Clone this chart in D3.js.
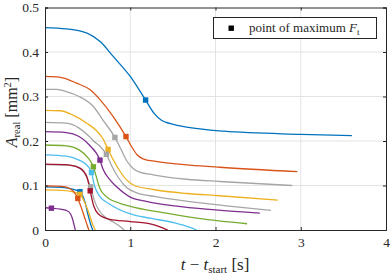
<!DOCTYPE html>
<html>
<head>
<meta charset="UTF-8">
<script src="https://d3js.org/d3.v7.min.js"></script>
<style>
  body { margin: 0; background: #fff; }
  svg text { font-family: "Liberation Serif", "DejaVu Serif", serif; fill: #262626; }
</style>
</head>
<body>
<svg id="grafico" width="390" height="276"></svg>
<script>
// ----- data (t - t_start [s], A_real [mm^2]) -----
const curvaAzul1    = [[0,0.455],[0.25,0.452],[0.5,0.442],[0.65,0.423],[0.8,0.39],[1.0,0.345],[1.18,0.292],[1.28,0.262],[1.37,0.246],[1.47,0.239],[1.7,0.23],[2.1,0.222],[3.0,0.215],[3.6,0.212]];
const curvaLaranja1 = [[0,0.345],[0.18,0.343],[0.37,0.33],[0.53,0.315],[0.65,0.292],[0.8,0.255],[0.95,0.21],[1.02,0.186],[1.08,0.169],[1.15,0.16],[1.3,0.154],[1.7,0.146],[2.05,0.141],[2.96,0.131]];
const curvaCinza1   = [[0,0.316],[0.14,0.316],[0.25,0.311],[0.4,0.3],[0.57,0.277],[0.68,0.247],[0.82,0.208],[0.89,0.182],[0.96,0.155],[1.03,0.139],[1.11,0.13],[1.27,0.124],[1.66,0.114],[2.05,0.109],[2.9,0.1]];
const curvaAmarela1 = [[0,0.269],[0.18,0.268],[0.33,0.258],[0.49,0.24],[0.6,0.224],[0.68,0.205],[0.74,0.181],[0.8,0.158],[0.88,0.132],[0.96,0.112],[1.05,0.1],[1.27,0.091],[1.66,0.082],[2.05,0.077],[2.73,0.067]];
const curvaCinza2   = [[0,0.242],[0.25,0.24],[0.4,0.229],[0.52,0.21],[0.57,0.2],[0.65,0.187],[0.72,0.17],[0.78,0.145],[0.86,0.118],[0.96,0.095],[1.07,0.084],[1.3,0.075],[1.7,0.064],[2.1,0.055],[2.65,0.044]];
const curvaRoxa1    = [[0,0.221],[0.25,0.219],[0.4,0.21],[0.52,0.191],[0.645,0.157],[0.68,0.137],[0.76,0.113],[0.84,0.097],[1.0,0.074],[1.2,0.064],[1.52,0.054],[2.0,0.045],[2.52,0.038]];
const curvaVerde    = [[0,0.191],[0.25,0.189],[0.4,0.18],[0.51,0.161],[0.567,0.142],[0.6,0.121],[0.64,0.095],[0.72,0.075],[0.88,0.06],[1.0,0.053],[1.35,0.04],[1.8,0.026],[2.37,0.014]];
const curvaCiano    = [[0,0.169],[0.25,0.166],[0.4,0.157],[0.51,0.142],[0.545,0.129],[0.58,0.1],[0.64,0.076],[0.76,0.058],[1.0,0.036],[1.25,0.026],[1.52,0.016],[1.7,0.006],[1.78,0]];
const curvaCinza3   = [[0,0.147],[0.3,0.145],[0.42,0.137],[0.49,0.118],[0.535,0.097],[0.58,0.066],[0.63,0.045],[0.7,0.03],[0.8,0.018],[0.88,0.008],[0.93,0]];
const curvaVinho    = [[0,0.148],[0.29,0.146],[0.41,0.139],[0.49,0.12],[0.53,0.088],[0.57,0.055],[0.625,0.036],[0.76,0.024],[1.0,0.019],[1.27,0.012],[1.38,0.005],[1.44,0]];
const curvaAzul2    = [[0,0.097],[0.2,0.096],[0.3,0.093],[0.41,0.086],[0.47,0.062],[0.51,0.03],[0.54,0.01],[0.56,0]];
const curvaAmarela2 = [[0,0.09],[0.2,0.089],[0.3,0.087],[0.41,0.08],[0.47,0.06],[0.52,0.035],[0.56,0.012],[0.59,0]];
const curvaLaranja2 = [[0,0.099],[0.2,0.098],[0.3,0.092],[0.385,0.071],[0.43,0.048],[0.47,0.025],[0.5,0.008],[0.515,0]];
const curvaRoxa2    = [[0,0.05],[0.08,0.049],[0.18,0.047],[0.25,0.044],[0.3,0.036],[0.33,0.02],[0.345,0.008],[0.355,0]];

// draw order (later on top), colours and the "maximum F_t" point of each curve
const curvas = [curvaAzul1, curvaLaranja1, curvaCinza1, curvaAmarela1, curvaCinza2, curvaRoxa1, curvaVerde,
                curvaCiano, curvaCinza3, curvaVinho, curvaAzul2, curvaAmarela2, curvaLaranja2, curvaRoxa2];
const cores = ["#0072BD", "#D95319", "#A6A6A6", "#EDB120", "#A6A6A6", "#7E2F8E", "#77AC30",
               "#4DBEEE", "#A6A6A6", "#A2142F", "#0072BD", "#EDB120", "#D95319", "#7E2F8E"];
const maximos = [[1.18,0.292],[0.95,0.21],[0.82,0.208],[0.74,0.181],[0.72,0.17],[0.645,0.157],[0.567,0.142],
                 [0.545,0.129],[0.535,0.097],[0.53,0.088],[0.41,0.086],[0.41,0.08],[0.385,0.071],[0.075,0.049]];

const ticksX = [0, 1, 2, 3, 4];
const ticksY = [0, 0.1, 0.2, 0.3, 0.4, 0.5];

// ----- layout -----
const esquerda = 45, direita = 386, topo = 7.5, inferior = 230;
const svg = d3.select("#grafico");

const escalaX = d3.scaleLinear().domain([0, 4]).range([esquerda, direita]);
const escalaY = d3.scaleLinear().domain([0, 0.5]).range([inferior, topo]);

// grid
svg.append("g").selectAll("line").data(ticksX.slice(1, -1)).enter().append("line")
  .attr("x1", d => escalaX(d)).attr("x2", d => escalaX(d))
  .attr("y1", topo).attr("y2", inferior)
  .attr("stroke", "#e3e3e3").attr("stroke-width", 1);
svg.append("g").selectAll("line").data(ticksY.slice(1, -1)).enter().append("line")
  .attr("x1", esquerda).attr("x2", direita)
  .attr("y1", d => escalaY(d)).attr("y2", d => escalaY(d))
  .attr("stroke", "#e3e3e3").attr("stroke-width", 1);

// curves
const linha = d3.line()
  .x(d => escalaX(d[0]))
  .y(d => escalaY(d[1]))
  .curve(d3.curveMonotoneX);

const plotArea = svg.append("g");
curvas.forEach(function(c, i) {
  plotArea.append("path")
    .attr("d", linha(c))
    .attr("fill", "none")
    .attr("stroke", cores[i])
    .attr("stroke-width", 1.3);
});
maximos.forEach(function(p, i) {
  plotArea.append("rect")
    .attr("x", escalaX(p[0]) - 2.7)
    .attr("y", escalaY(p[1]) - 2.7)
    .attr("width", 5.4).attr("height", 5.4)
    .attr("fill", cores[i]);
});

// axes (box with inward ticks)
const corEixo = "#262626";
const eixoX = d3.axisBottom(escalaX).tickValues(ticksX).tickSize(-3).tickPadding(7).tickFormat(d3.format("d"));
const eixoY = d3.axisLeft(escalaY).tickValues(ticksY).tickSize(-3).tickPadding(6).tickFormat(d => d === 0 ? "0" : d3.format(".1f")(d));
const eixoXTopo = d3.axisTop(escalaX).tickValues(ticksX).tickSize(-3).tickFormat("");
const eixoYDir = d3.axisRight(escalaY).tickValues(ticksY).tickSize(-3).tickFormat("");

const gx = svg.append("g").attr("transform", `translate(0,${inferior})`).call(eixoX);
const gy = svg.append("g").attr("transform", `translate(${esquerda},0)`).call(eixoY);
const gxt = svg.append("g").attr("transform", `translate(0,${topo})`).call(eixoXTopo);
const gyd = svg.append("g").attr("transform", `translate(${direita},0)`).call(eixoYDir);
[gx, gy, gxt, gyd].forEach(function(g) {
  g.selectAll("path, line").attr("stroke", corEixo).attr("stroke-width", 1);
  g.selectAll("text").attr("fill", corEixo).style("font-size", "13.5px")
    .style("font-family", '"Liberation Serif", serif');
});

// axis labels
svg.append("text")
  .attr("x", 215).attr("y", 270)
  .attr("text-anchor", "middle")
  .style("font-size", "17px")
  .html('<tspan font-style="italic">t</tspan> − <tspan font-style="italic">t</tspan><tspan dy="3" font-size="11px">start</tspan><tspan dy="-3"> [s]</tspan>');

svg.append("text")
  .attr("transform", "translate(17,112) rotate(-90)")
  .attr("text-anchor", "middle")
  .style("font-size", "16px")
  .html('<tspan font-style="italic">A</tspan><tspan dy="3" font-size="10.5px">real</tspan><tspan dy="-3"> [mm</tspan><tspan dy="-6" font-size="10.5px">2</tspan><tspan dy="6">]</tspan>');

// legend
const legenda = svg.append("g");
legenda.append("rect")
  .attr("x", 213.5).attr("y", 17.5).attr("width", 163).attr("height", 21)
  .attr("fill", "#fff").attr("stroke", corEixo).attr("stroke-width", 1);
legenda.append("rect")
  .attr("x", 228.5).attr("y", 25.5).attr("width", 5.4).attr("height", 5.4)
  .attr("fill", "#000");
legenda.append("text")
  .attr("x", 249).attr("y", 32)
  .style("font-size", "13px")
  .html('point of maximum <tspan font-style="italic">F</tspan><tspan dy="3" font-size="9px">t</tspan>');
</script>
</body>
</html>
